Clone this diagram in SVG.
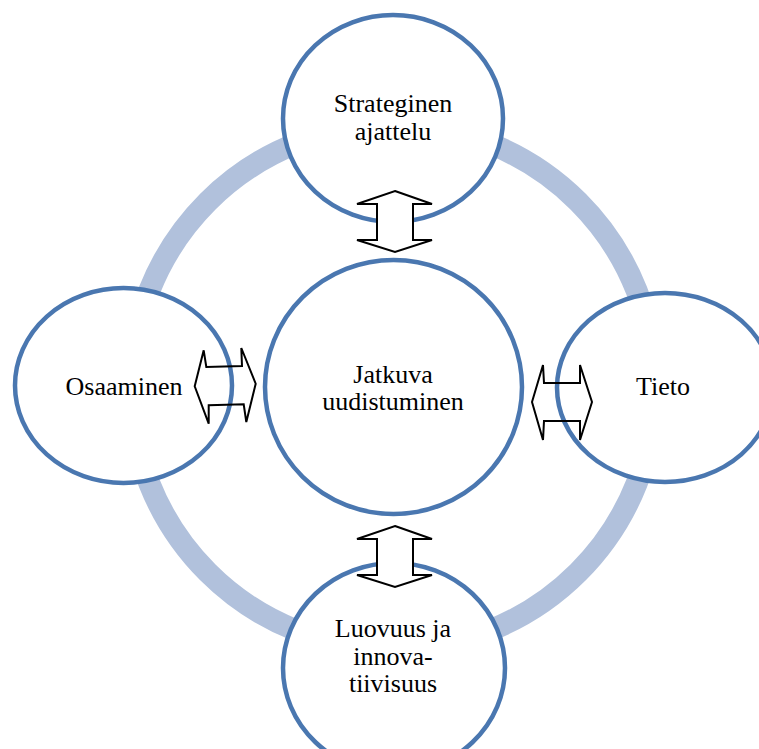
<svg xmlns="http://www.w3.org/2000/svg" width="759" height="749" viewBox="0 0 759 749">
<style>
.node{fill:#ffffff;stroke:#4a77b0;stroke-width:4.5}
.lbl{font-family:"Liberation Serif","Times New Roman",serif;font-size:26px;fill:#000000;text-anchor:middle}
.arw{stroke:#000000;stroke-width:2;stroke-linejoin:miter}
</style>
<rect width="759" height="749" fill="#ffffff"/>
<g id="ring">
<circle cx="393" cy="387" r="262" fill="none" stroke="#b1c1dc" stroke-width="22"/>
</g>
<g id="node-strateginen">
<ellipse class="node" cx="393" cy="118.5" rx="110" ry="103.5"/>
<text class="lbl" x="393" y="112">Strateginen</text>
<text class="lbl" x="393" y="139.5">ajattelu</text>
</g>
<g id="node-osaaminen">
<ellipse class="node" cx="123.5" cy="385.5" rx="108.5" ry="97.5"/>
<text class="lbl" x="124" y="395">Osaaminen</text>
</g>
<g id="node-tieto">
<ellipse class="node" cx="665" cy="387.5" rx="108" ry="94.5"/>
<text class="lbl" x="663" y="395">Tieto</text>
</g>
<g id="node-luovuus">
<ellipse class="node" cx="394" cy="668" rx="111" ry="105"/>
<text class="lbl" x="393" y="637">Luovuus ja</text>
<text class="lbl" x="393" y="665">innova-</text>
<text class="lbl" x="393" y="692">tiivisuus</text>
</g>
<g id="node-jatkuva">
<ellipse class="node" cx="393.5" cy="387" rx="128.5" ry="127"/>
<text class="lbl" x="393" y="383">Jatkuva</text>
<text class="lbl" x="393" y="410">uudistuminen</text>
</g>
<g id="connectors">
<polygon class="arw" fill="#ffffff" points="395,191 432,204 413,204 413,240 432,240 395,252 357,240 377,240 377,204 357,204"/>
<polygon class="arw" fill="#ffffff" points="395,526 432,539 413,539 413,575 432,575 395,587 357,575 377,575 377,539 357,539"/>
<polygon class="arw" fill="none" points="194.7,386.3 203.7,350.3 206.3,367 242,366 241.3,348 255.7,383.7 246.3,422 243.7,404.3 208.7,405.3 208.7,423.7"/>
<polygon class="arw" fill="none" points="532,402 543,365 544,383 580,383 580,365 592,402 580,440 580,421 544,421 543,440"/>
</g>
</svg>
